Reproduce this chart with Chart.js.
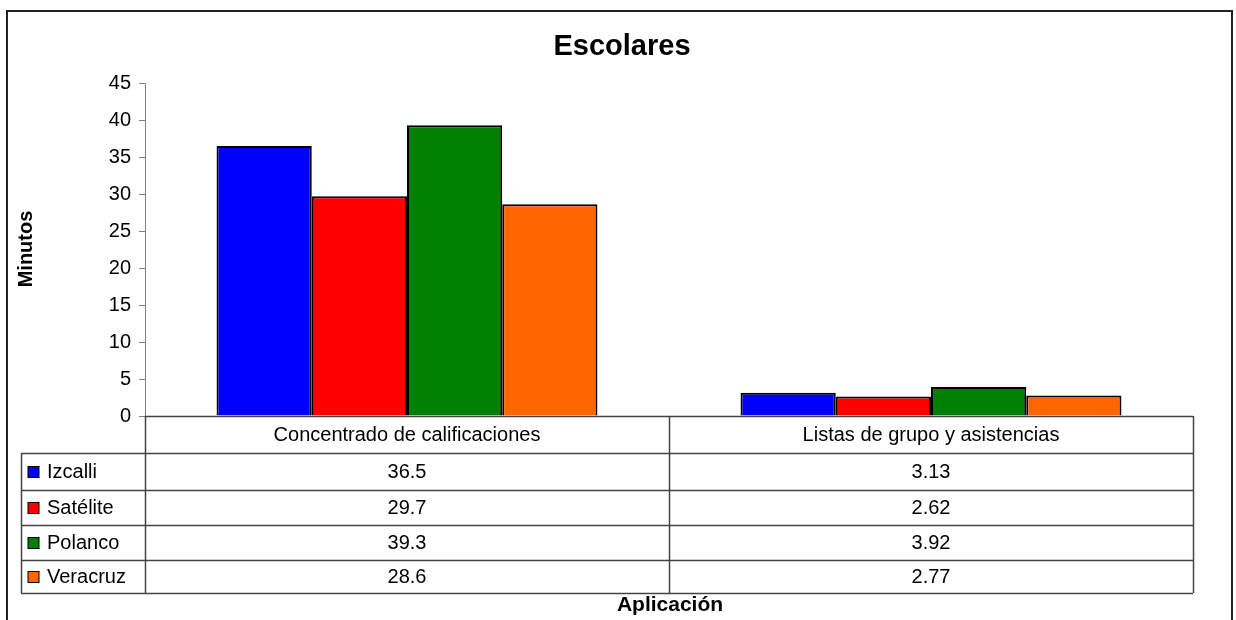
<!DOCTYPE html>
<html>
<head>
<meta charset="utf-8">
<title>Escolares</title>
<script src="https://cdn.jsdelivr.net/npm/chart.js@4"></script>
<style>
    body { margin: 0; background: #fff; }
    #chart { display: block; }
</style>
</head>
<body>
<canvas id="chart" width="1236" height="620"></canvas>
<script>
// Datos
const categorias = ['Concentrado de calificaciones', 'Listas de grupo y asistencias'];
const izcalli = [36.5, 3.13];
const satelite = [29.7, 2.62];
const polanco = [39.3, 3.92];
const veracruz = [28.6, 2.77];
const ticksY = [0, 5, 10, 15, 20, 25, 30, 35, 40, 45];

const FONT = '"Liberation Sans", Arial, sans-serif';

const series = [
    { label: 'Izcalli', data: izcalli, color: '#0000FF' },
    { label: 'Satélite', data: satelite, color: '#FF0000' },
    { label: 'Polanco', data: polanco, color: '#008000' },
    { label: 'Veracruz', data: veracruz, color: '#FF6600' }
];

function fmt(v) {
    return String(v);
}

// Marco, títulos y tabla de datos debajo del eje
const tablaDatos = {
    id: 'tablaDatos',
    beforeDraw(chart) {
        const ctx = chart.ctx;
        ctx.save();
        ctx.fillStyle = '#fff';
        ctx.fillRect(0, 0, chart.width, chart.height);
        ctx.restore();
    },
    afterDraw(chart) {
        const ctx = chart.ctx;
        const area = chart.chartArea;
        const x = chart.scales.x;
        const left = area.left, right = area.right, top = area.bottom;
        const rowH = [37, 37, 35, 35, 33];
        const rows = [top];
        rowH.forEach(h => rows.push(rows[rows.length - 1] + h));
        const legendLeft = 21;
        const bottom = rows[rows.length - 1];

        ctx.save();

        // marco exterior
        ctx.strokeStyle = '#222';
        ctx.lineWidth = 2;
        ctx.strokeRect(7, 11, 1225, 640);

        // título
        ctx.fillStyle = '#000';
        ctx.textAlign = 'center';
        ctx.textBaseline = 'middle';
        ctx.font = 'bold 29px ' + FONT;
        ctx.fillText('Escolares', 622, 47);

        // título eje Y
        ctx.save();
        ctx.translate(26, 249);
        ctx.rotate(-Math.PI / 2);
        ctx.font = 'bold 20px ' + FONT;
        ctx.fillText('Minutos', 0, 0);
        ctx.restore();

        // título eje X
        ctx.font = 'bold 21px ' + FONT;
        ctx.fillText('Aplicación', 670, 605);

        // líneas de la tabla
        ctx.strokeStyle = '#444';
        ctx.lineWidth = 1.5;
        ctx.beginPath();
        ctx.moveTo(left, top + 0.5);
        ctx.lineTo(right, top + 0.5);
        for (let i = 1; i < rows.length; i++) {
            ctx.moveTo(legendLeft, rows[i] + 0.5);
            ctx.lineTo(right, rows[i] + 0.5);
        }
        ctx.moveTo(legendLeft + 0.5, rows[1]);
        ctx.lineTo(legendLeft + 0.5, bottom);
        ctx.moveTo(left + 0.5, top);
        ctx.lineTo(left + 0.5, bottom);
        const mid = (x.getPixelForValue(0) + x.getPixelForValue(1)) / 2;
        ctx.moveTo(mid + 0.5, top);
        ctx.lineTo(mid + 0.5, bottom);
        ctx.moveTo(right + 0.5, top);
        ctx.lineTo(right + 0.5, bottom);
        ctx.stroke();

        // encabezados de categoría
        ctx.fillStyle = '#000';
        ctx.font = '20px ' + FONT;
        ctx.textAlign = 'center';
        categorias.forEach((c, i) => {
            ctx.fillText(c, x.getPixelForValue(i), (rows[0] + rows[1]) / 2 + 1);
        });

        // filas de series
        series.forEach((s, r) => {
            const cy = (rows[r + 1] + rows[r + 2]) / 2 + 1;
            ctx.fillStyle = s.color;
            ctx.fillRect(28, cy - 6, 11, 11);
            ctx.strokeStyle = '#000';
            ctx.lineWidth = 1;
            ctx.strokeRect(28, cy - 6, 11, 11);
            ctx.fillStyle = '#000';
            ctx.textAlign = 'left';
            ctx.fillText(s.label, 47, cy);
            ctx.textAlign = 'center';
            s.data.forEach((v, i) => {
                ctx.fillText(fmt(v), x.getPixelForValue(i), cy);
            });
        });

        ctx.restore();
    }
};

new Chart(document.getElementById('chart'), {
    type: 'bar',
    data: {
        labels: categorias,
        datasets: series.map(s => ({
            label: s.label,
            data: s.data,
            backgroundColor: s.color,
            borderColor: '#000',
            borderWidth: 2,
            borderSkipped: 'bottom'
        }))
    },
    options: {
        responsive: false,
        animation: false,
        layout: { padding: { top: 83, right: 43, bottom: 204, left: 0 } },
        datasets: {
            bar: { categoryPercentage: 0.727, barPercentage: 1 }
        },
        plugins: {
            legend: { display: false },
            title: { display: false },
            tooltip: { enabled: false }
        },
        scales: {
            x: { display: false },
            y: {
                min: 0,
                max: 45,
                afterFit(scale) { scale.width = 145; },
                afterBuildTicks(scale) { scale.ticks = ticksY.map(v => ({ value: v })); },
                ticks: {
                    color: '#000',
                    font: { family: FONT, size: 20 },
                    padding: 8
                },
                grid: {
                    drawOnChartArea: false,
                    tickLength: 6,
                    color: '#808080'
                },
                border: { color: '#808080', width: 1 }
            }
        }
    },
    plugins: [tablaDatos]
});
</script>
</body>
</html>
